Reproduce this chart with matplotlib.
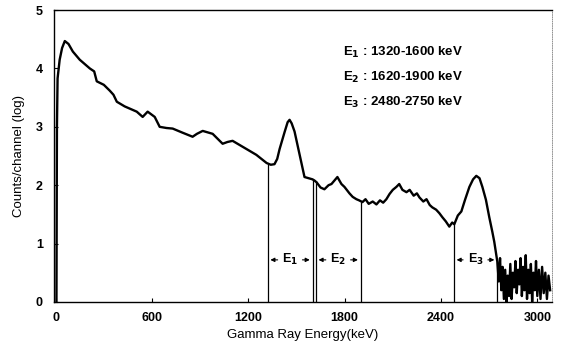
#!/usr/bin/env python3
# gamma ray spectrum, counts/channel (log) vs energy, with E1/E2/E3 windows
import numpy as np
import matplotlib
matplotlib.use('Agg')
import matplotlib.pyplot as plt

#--------------------------------------------------
# spectrum (energy in keV, log counts)
energy = [5, 8, 12, 25, 40, 57, 80, 107, 150, 213, 240, 256, 300, 337, 360, 381,
          430, 505, 542, 573, 617, 648, 690, 729, 790, 853, 880, 916, 978, 1040,
          1070, 1102, 1189, 1250, 1314, 1340, 1363, 1380, 1395, 1426, 1445, 1457, 1470, 1488, 1519,
          1550, 1575, 1600, 1612, 1625, 1650, 1674, 1700, 1718, 1755, 1780, 1799,
          1830, 1850, 1873, 1890, 1911, 1930, 1950, 1975, 1998, 2020, 2040, 2060,
          2080, 2100, 2122, 2140, 2160, 2185, 2205, 2230, 2250, 2266, 2290, 2310,
          2330, 2346, 2370, 2390, 2409, 2430, 2452, 2470, 2483, 2505, 2527, 2550,
          2577, 2600, 2620, 2640, 2658, 2680, 2701, 2720, 2732, 2751]
counts = [0.0, 3.0, 3.83, 4.15, 4.35, 4.47, 4.42, 4.29, 4.15, 4.0, 3.95, 3.78, 3.72, 3.62, 3.55, 3.43,
          3.35, 3.26, 3.17, 3.26, 3.17, 3.0, 2.98, 2.97, 2.90, 2.83, 2.88, 2.93, 2.88, 2.71,
          2.74, 2.76, 2.62, 2.52, 2.38, 2.35, 2.36, 2.45, 2.62, 2.91, 3.08, 3.12, 3.06, 2.92, 2.53,
          2.14, 2.12, 2.10, 2.08, 2.05, 1.96, 1.93, 2.00, 2.02, 2.14, 2.02, 1.97,
          1.86, 1.80, 1.76, 1.74, 1.71, 1.76, 1.68, 1.72, 1.67, 1.74, 1.70, 1.76,
          1.85, 1.92, 1.97, 2.02, 1.92, 1.88, 1.92, 1.82, 1.86, 1.79, 1.72, 1.76,
          1.66, 1.62, 1.58, 1.52, 1.45, 1.38, 1.29, 1.36, 1.33, 1.48, 1.55, 1.75,
          1.97, 2.10, 2.16, 2.12, 1.97, 1.75, 1.45, 1.20, 1.03, 0.69]
# noisy tail above ~2750 keV
tailE = [2760, 2768, 2776, 2784, 2792, 2800, 2808, 2816, 2824, 2832, 2840, 2848,
         2856, 2864, 2872, 2880, 2888, 2896, 2904, 2912, 2920, 2928, 2936, 2944,
         2952, 2960, 2968, 2976, 2984, 2992, 3000, 3010, 3020, 3030, 3040, 3050,
         3060, 3070, 3080]
tailC = [0.35, 0.75, 0.20, 0.60, 0.05, 0.55, 0.0, 0.45, 0.10, 0.65, 0.05, 0.50,
         0.25, 0.70, 0.15, 0.55, 0.30, 0.75, 0.10, 0.60, 0.20, 0.80, 0.05, 0.55,
         0.15, 0.65, 0.0, 0.50, 0.20, 0.70, 0.10, 0.55, 0.05, 0.60, 0.15, 0.50,
         0.05, 0.45, 0.20]

# window boundaries (keV) and where each line meets the curve
lineE = [1320, 1600, 1620, 1900, 2480, 2750]
lineTop = [2.37, 2.10, 2.07, 1.72, 1.33, 0.68]

# energy windows for the arrows
winLab = [r'E$_1$', r'E$_2$', r'E$_3$']
winLo = [1320, 1620, 2480]
winHi = [1600, 1900, 2750]
legTxt = [r'E$_1$ : 1320-1600 keV', r'E$_2$ : 1620-1900 keV', r'E$_3$ : 2480-2750 keV']

#--------------------------------------------------
plt.rcParams['font.family'] = 'Liberation Sans'
plt.rcParams['font.weight'] = 'bold'
plt.rcParams['mathtext.default'] = 'bf'

fig = plt.figure(figsize=(5.63, 3.49), dpi=100)
ax = fig.add_axes([0.096, 0.135, 0.884, 0.836])

ax.plot(energy + tailE, counts + tailC, color='black', lw=1.7)
ax.vlines(lineE, 0, lineTop, color='black', lw=0.9)

yArr = 0.72
for lab, lo, hi in zip(winLab, winLo, winHi):
    mid = 0.5*(lo + hi)
    ax.text(mid, yArr, lab, ha='center', va='center', fontsize=9)
    ax.annotate('', xy=(lo, yArr), xytext=(mid - 60, yArr),
                arrowprops=dict(arrowstyle='-|>', color='black', lw=0.8, mutation_scale=6))
    ax.annotate('', xy=(hi, yArr), xytext=(mid + 60, yArr),
                arrowprops=dict(arrowstyle='-|>', color='black', lw=0.8, mutation_scale=6))

for i, t in enumerate(legTxt):
    ax.text(0.58, 0.855 - i*0.085, t, transform=ax.transAxes, fontsize=9.5,
            ha='left', va='center')

ax.set_xlim(-10, 3090)
ax.set_ylim(0, 5)
ax.set_xticks([0, 600, 1200, 1800, 2400, 3000])
ax.set_yticks([0, 1, 2, 3, 4, 5])
ax.tick_params(direction='in', length=3, labelsize=9, width=0.8)
ax.tick_params(axis='x', pad=7)
ax.tick_params(axis='y', pad=8)
ax.set_xlabel('Gamma Ray Energy(keV)', fontsize=9.5, labelpad=4)
ax.set_ylabel('Counts/channel (log)', fontsize=9.5, labelpad=8)

for s in ['left', 'bottom', 'top']:
    ax.spines[s].set_linewidth(1.0)
ax.spines['right'].set_linewidth(0.6)
ax.spines['right'].set_linestyle(':')
ax.spines['right'].set_color('gray')

fig.savefig('out.png', dpi=100)
